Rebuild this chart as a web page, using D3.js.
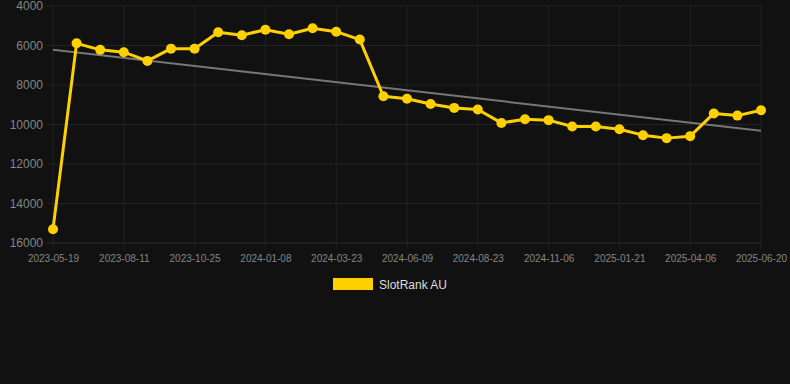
<!DOCTYPE html>
<html>
<head>
<meta charset="utf-8">
<script src="https://cdn.jsdelivr.net/npm/d3@7"></script>
<style>
    html, body { margin: 0; padding: 0; background: #111111; }
    svg { display: block; font-family: "Liberation Sans", Arial, sans-serif; }
</style>
</head>
<body>
<svg id="chart" width="790" height="384"></svg>
<script>
// one point per sample, labels shown every third point
let tickLabels = ['2023-05-19', '2023-08-11', '2023-10-25', '2024-01-08', '2024-03-23',
    '2024-06-09', '2024-08-23', '2024-11-06', '2025-01-21', '2025-04-06', '2025-06-20']
let rankValues = [15300, 5890, 6220, 6340, 6780, 6160, 6160, 5330, 5480, 5200,
    5430, 5130, 5300, 5700, 8570, 8700, 8960, 9160, 9240, 9920,
    9730, 9780, 10100, 10100, 10240, 10540, 10690, 10590, 9440, 9550, 9280]
let trendValues = [6220, 10320]
let yTicks = [4000, 6000, 8000, 10000, 12000, 14000, 16000]
let seriesName = 'SlotRank AU'

let svg = d3.select('#chart')
let margin = {top: 6, right: 29, bottom: 141, left: 53}
let width = 790 - margin.left - margin.right
let height = 384 - margin.top - margin.bottom

let x = d3.scaleLinear().domain([0, rankValues.length - 1]).range([0, width])
let y = d3.scaleLinear().domain([4000, 16000]).range([0, height])

let g = svg.append('g').attr('transform', `translate(${margin.left},${margin.top})`)

// grid (lines run a few px past the plot like tick marks)
let tickIdx = tickLabels.map((d, i) => i * 3)
g.append('g').selectAll('line').data(tickIdx).enter().append('line')
    .attr('x1', d => x(d)).attr('x2', d => x(d))
    .attr('y1', 0).attr('y2', height + 6)
    .attr('stroke', '#222222').attr('stroke-width', 1)
g.append('g').selectAll('line').data(yTicks).enter().append('line')
    .attr('x1', -6).attr('x2', width)
    .attr('y1', d => y(d)).attr('y2', d => y(d))
    .attr('stroke', d => d === 16000 ? '#2c2c2c' : '#222222').attr('stroke-width', 1)

// axes labels
let yAxis = g.append('g')
    .call(d3.axisLeft(y).tickValues(yTicks).tickSize(0).tickPadding(10).tickFormat(d3.format('d')))
yAxis.select('.domain').remove()
yAxis.selectAll('text').attr('fill', '#858585').style('font-size', '12px')

let xAxis = g.append('g').attr('transform', `translate(0,${height})`)
    .call(d3.axisBottom(x).tickValues(tickIdx).tickSize(0).tickPadding(12)
        .tickFormat((d, i) => tickLabels[i]))
xAxis.select('.domain').remove()
xAxis.selectAll('text').attr('fill', '#858585').style('font-size', '10px')

// trend
g.append('line')
    .attr('x1', x(0)).attr('x2', x(rankValues.length - 1))
    .attr('y1', y(trendValues[0])).attr('y2', y(trendValues[1]))
    .attr('stroke', '#777777').attr('stroke-width', 2)

// series
let line = d3.line().x((d, i) => x(i)).y(d => y(d))
g.append('path').datum(rankValues)
    .attr('d', line)
    .attr('fill', 'none')
    .attr('stroke', '#ffd000')
    .attr('stroke-width', 3)
    .attr('stroke-linejoin', 'round')

g.selectAll('circle.pt').data(rankValues).enter().append('circle')
    .attr('class', 'pt')
    .attr('cx', (d, i) => x(i)).attr('cy', d => y(d))
    .attr('r', 5)
    .attr('fill', '#ffd000')

// legend
let legend = svg.append('g').attr('transform', 'translate(333,278)')
legend.append('rect').attr('width', 40).attr('height', 12).attr('fill', '#ffd000')
legend.append('text').attr('x', 46).attr('y', 10.5)
    .attr('fill', '#dddddd').style('font-size', '12px')
    .text(seriesName)
</script>
</body>
</html>
